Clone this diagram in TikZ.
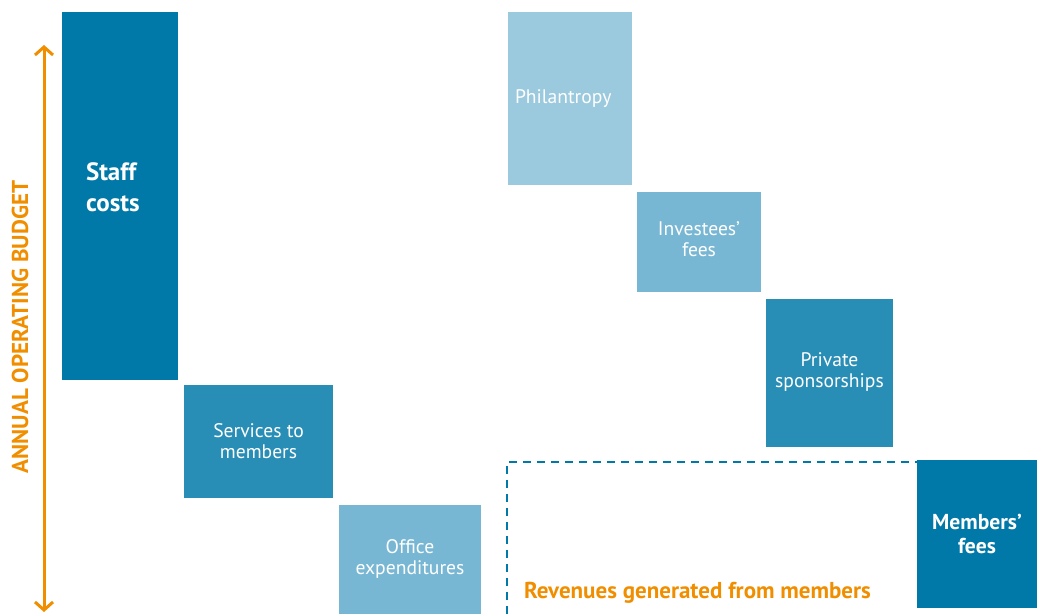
\documentclass[tikz,border=0pt]{standalone}
\usepackage{fontspec}
\setmainfont{PT Sans}
\usetikzlibrary{arrows.meta}
\definecolor{blueA}{RGB}{0,120,168}
\definecolor{blueB}{RGB}{41,142,182}
\definecolor{blueC}{RGB}{120,183,211}
\definecolor{blueD}{RGB}{155,201,221}
\definecolor{budget}{RGB}{240,142,0}
\begin{document}
\begin{tikzpicture}[
        x=0.5pt, y=-0.5pt,
        every node/.style={font=\fontsize{9.8}{10.5}\selectfont, text=white},
        bar/.style={inner sep=0pt, align=center},
        boldbar/.style={bar, font=\bfseries\fontsize{12.5}{15.5}\selectfont},
        arrow/.style={{Straight Barb[length=4pt,width=9pt]}-{Straight Barb[length=4pt,width=9pt]}, line width=1.5pt, draw=budget},
        members/.style={draw=blueA, line width=1.2pt, dash pattern=on 4pt off 3pt}
    ]
    \useasboundingbox (0,0) rectangle (1040,614);

    % Costs
    \node[boldbar, fill=blueA, minimum width=58pt, minimum height=184pt, text width=34pt, align=left, text depth=24pt] (staff) at (120,196) {Staff\\costs};
    \node[bar, fill=blueB, minimum width=74.5pt, minimum height=56.5pt] (services) at (258.5,441.5) {Services to\\members};
    \node[bar, fill=blueC, minimum width=71pt, minimum height=54.5pt, text depth=2pt] (office) at (410,559.5) {Office\\expenditures};

    % Revenues
    \node[bar, fill=blueD, minimum width=62pt, minimum height=86.5pt, text width=55pt, align=left] (philantropy) at (570,98.5) {Philantropy};
    \node[bar, fill=blueC, minimum width=62pt, minimum height=50pt, text depth=2.5pt] (investees) at (699,242) {Investees'\\fees};
    \node[bar, fill=blueB, minimum width=63.5pt, minimum height=74pt, text depth=2.5pt] (private) at (829.5,373) {Private\\sponsorships};
    \node[boldbar, fill=blueA, minimum width=60pt, minimum height=74pt, font=\bfseries\fontsize{10.8}{12}\selectfont] (memfees) at (977,534) {Members'\\fees};

    % Revenues from members
    \coordinate (mbottom) at (507,614);
    \draw[members] (mbottom) |- (memfees.west |- 0,462);
    \node[text=budget, font=\bfseries\fontsize{11.5}{12}\selectfont, anchor=base west] (revlabel) at (517,599) {Revenues generated from members};

    % Budget
    \coordinate (btop) at (44,45);
    \coordinate (bbottom) at (44,612);
    \draw[arrow] (btop) -- (bbottom);
    \node[text=budget, font=\bfseries\fontsize{11.5}{12}\selectfont, rotate=90] (budgetlabel) at (20,327) {ANNUAL OPERATING BUDGET};

\end{tikzpicture}
\end{document}
